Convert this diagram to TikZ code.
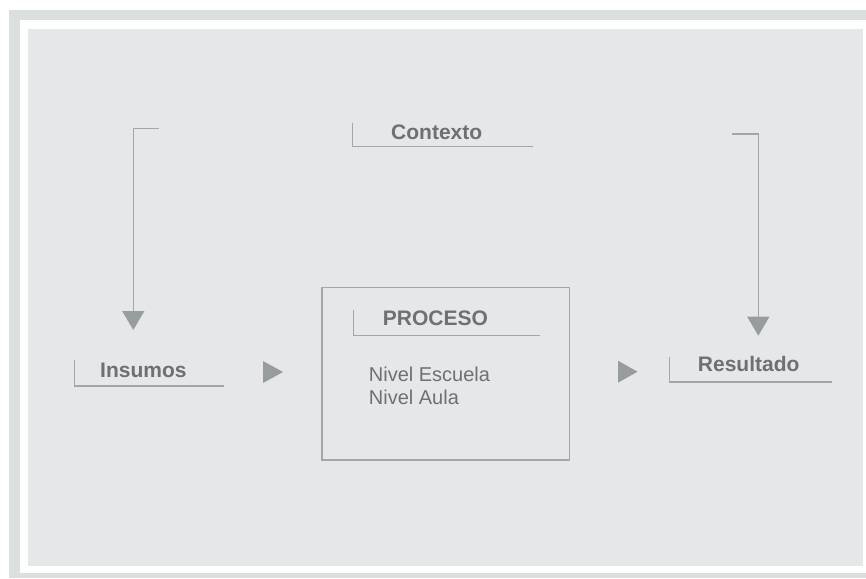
\documentclass[tikz,border=0pt]{standalone}
\usepackage{fontspec}
\setmainfont{Liberation Sans}
\usetikzlibrary{arrows.meta}
\definecolor{marco}{HTML}{DCDFE0}
\definecolor{fondo}{HTML}{E6E7E9}
\definecolor{linea}{HTML}{A2A7A8}
\definecolor{flecha}{HTML}{979C9C}
\definecolor{texto}{HTML}{6C7171}
\tikzset{
	titulo/.style={anchor=base west,inner sep=0pt,text=texto,font=\fontsize{21}{25}\selectfont\bfseries},
	nivel/.style={anchor=base west,inner sep=0pt,text=texto,align=left,font=\fontsize{20}{23.3}\selectfont},
	raya/.style={draw=linea,line width=1.3pt}
}

\begin{document}
\begin{tikzpicture}[line cap=butt,line join=miter,>={Triangle[length=19pt,width=22pt,color=flecha]},x=1pt,y=-1pt]
		\useasboundingbox (0,0) rectangle (866,578);
		\fill[marco] (9,10) rectangle (866,578);
		\fill[white] (20,20) rectangle (866,573);
		\fill[fondo] (28,29) rectangle (863,566);
		% etiquetas
		\node[titulo] (contexto) at (391,139) {Contexto};
		\node[titulo] (insumos) at (100,377) {Insumos};
		\node[titulo] (resultado) at (697.7,371.7) {Resultado};
		\node[draw=linea,line width=1.3pt,minimum width=247.4pt,minimum height=172.6pt,anchor=north west,inner sep=0pt] (proceso) at (321.3,286.7) {};
		\node[titulo] (ptitulo) at (382.7,325) {PROCESO};
		\node[nivel] (niveles) at (368.7,404.3) {Nivel Escuela\\Nivel Aula};
		\draw[raya] (352.7,122.7) |- (532.7,146.7);
		\draw[raya] (74.3,360) |- (224,386);
		\draw[raya] (353.7,310) |- (540,335.7);
		\draw[raya] (669.3,356.7) |- (831.7,382);
		% conectores
		\coordinate (izq) at (159,128.7);
		\coordinate (izqfin) at (133.3,330);
		\coordinate (der) at (732,134);
		\coordinate (derfin) at (758.3,335.7);
		\draw[raya,->] (izq) -| (izqfin);
		\draw[raya,->] (der) -| (derfin);
		\fill[flecha] (263,361) -- (283,372) -- (263,383) -- cycle;
		\fill[flecha] (618,360.7) -- (637.5,371.7) -- (618,382.7) -- cycle;
	\end{tikzpicture}
\end{document}
